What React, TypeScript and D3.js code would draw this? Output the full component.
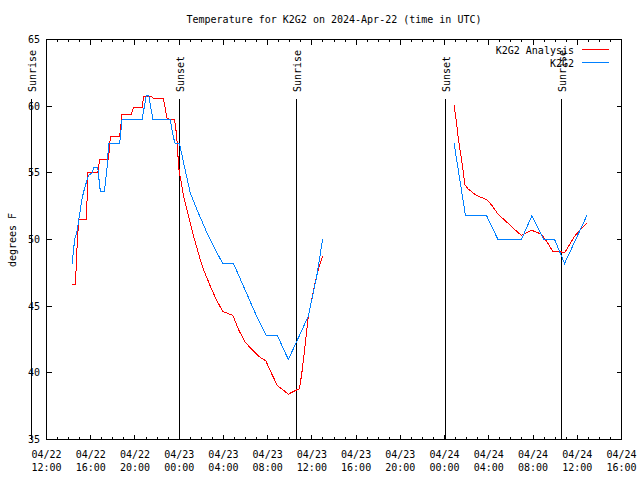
import React from "react";
import * as d3 from "d3";

const TITLE = "Temperature for K2G2 on 2024-Apr-22 (time in UTC)";
const Y_LABEL = "degrees F";
const START = Date.UTC(2024, 3, 22, 12);
const END = Date.UTC(2024, 3, 24, 16);
const yTicks = [35, 40, 45, 50, 55, 60, 65];

// hours after 2024-04-22 12:00 UTC
const analysisHours = [
  2.3, 2.62, 2.71, 2.8, 2.92, 3.61, 3.75, 4.63, 4.81, 5.6, 5.78, 6.62, 6.83, 7.67, 7.88, 8.64, 8.78,
  9.54, 9.66, 10.56, 10.9, 11.19, 11.58, 11.74, 11.85, 11.94, 12.03, 12.4, 12.85, 13.3, 13.9, 14.2,
  14.81, 15.41, 15.95, 16.86, 17.36, 17.97, 18.57, 19.17, 19.83, 20.38, 20.88, 21.87, 22.57, 22.87,
  23.08, 23.38, 23.68, 23.99, 24.28, 24.67, 24.98,
  36.86, 37.08, 37.22, 37.44, 37.62, 37.83, 38.12, 38.88, 39.79, 40.24, 40.83, 41.44, 42.34, 42.95,
  43.85, 44.75, 45.2, 45.8, 46.4, 46.85, 47.76, 48.87,
];
const analysisTemps = [
  46.6, 46.6, 48.5, 50.0, 51.5, 51.5, 55.0, 55.0, 56.0, 56.0, 57.75, 57.75, 59.4, 59.4, 59.9, 59.9, 60.7,
  60.7, 60.6, 60.6, 59.1, 59.0, 59.0, 58.0, 56.9, 55.5, 55.0, 53.25, 51.75, 50.25, 48.5, 47.75,
  46.5, 45.4, 44.6, 44.3, 43.25, 42.3, 41.75, 41.25, 40.9, 39.9, 39.05, 38.4, 38.7, 38.8,
  39.9, 42.0, 44.25, 45.5, 46.75, 48.0, 48.75,
  60.05, 58.75, 57.75, 56.5, 55.5, 54.1, 53.8, 53.3, 53.0, 52.6, 51.9, 51.45, 50.75, 50.3,
  50.7, 50.4, 49.9, 49.1, 49.1, 49.0, 50.25, 51.25,
];
const obsHours = [
  2.32, 2.44, 2.55, 2.75, 2.89, 3.07, 3.25, 3.43, 3.61, 3.79, 4.13, 4.27, 4.63, 4.87, 5.24, 5.48, 5.62,
  6.62, 6.83, 8.64, 9.03, 9.24, 9.63, 11.19, 11.49, 11.65, 12.03, 12.4, 13.0, 13.6, 14.51, 15.41,
  15.95, 16.91, 17.81, 18.87, 19.86, 20.88, 21.87, 22.57, 23.68, 24.44, 24.98,
  36.86, 37.89, 39.79, 40.83, 42.95, 43.9, 44.96, 45.95, 46.85, 48.87,
];
const obsTemps = [
  48.2, 49.2, 50.0, 50.6, 51.3, 52.3, 53.2, 53.8, 54.3, 54.8, 55.0, 55.4, 55.4, 53.6, 53.6, 55.4, 57.2,
  57.2, 59.0, 59.0, 60.8, 60.8, 59.0, 59.0, 57.6, 57.2, 57.2, 55.75, 53.5, 52.25, 50.5, 49.0,
  48.2, 48.2, 46.5, 44.5, 42.8, 42.8, 41.0, 42.25, 44.25, 47.25, 50.05,
  57.2, 51.8, 51.8, 50.0, 50.0, 51.8, 50.0, 50.0, 48.2, 51.8,
];
const sunriseHours = [-1.36, 22.61, 46.57];
const sunsetHours = [12.03, 36.05];
const seriesNames = ["K2G2 Analysis", "K2G2"];
const seriesColors = ["#ff0000", "#0080ff"];

const FONT = "DejaVu Sans Mono";
const FS = 10;

const hToDate = (h: number) => new Date(START + h * 3600e3);

function segments(hours: number[], temps: number[]): [number, number][][] {
  const segs: [number, number][][] = [];
  let cur: [number, number][] = [];
  hours.forEach((h, i) => {
    if (cur.length && h - cur[cur.length - 1][0] > 4) {
      segs.push(cur);
      cur = [];
    }
    cur.push([h, temps[i]]);
  });
  if (cur.length) segs.push(cur);
  return segs;
}

export default function App() {
  const L = 46.5, R = 621.5, T = 39.5, B = 439.5;
  const x = d3.scaleUtc().domain([new Date(START), new Date(END)]).range([L, R]);
  const y = d3.scaleLinear().domain([35, 65]).range([B, T]);
  const majorX = d3.utcHour.every(4)!.range(new Date(START), new Date(END + 1));
  const minorX = d3.utcHour.range(new Date(START), new Date(END + 1));
  const fmtD = d3.utcFormat("%m/%d");
  const fmtT = d3.utcFormat("%H:%M");
  const line = d3
    .line<[number, number]>()
    .x((d) => x(hToDate(d[0])))
    .y((d) => y(d[1]));

  const series = [
    segments(analysisHours, analysisTemps),
    segments(obsHours, obsTemps),
  ];

  const txt = { fontFamily: FONT, fontSize: FS, fill: "#000" } as const;

  const sunLines = [
    ...sunriseHours.map((h) => ({ h, label: "Sunrise" })),
    ...sunsetHours.map((h) => ({ h, label: "Sunset" })),
  ];

  return (
    <svg
      width={640}
      height={480}
      style={{ position: "absolute", left: 0, top: 0, background: "#fff" }}
    >
      <rect x={0} y={0} width={640} height={480} fill="#fff" />
      <text {...txt} x={(L + R) / 2} y={23} textAnchor="middle">
        {TITLE}
      </text>
      {/* minor x ticks */}
      <g stroke="#000" shapeRendering="crispEdges">
        {minorX.map((d, i) => {
          const xx = Math.round(x(d) - 0.5) + 0.5;
          return (
            <g key={i}>
              <line x1={xx} x2={xx} y1={B} y2={B - 2.5} />
              <line x1={xx} x2={xx} y1={T} y2={T + 2.5} />
            </g>
          );
        })}
        {majorX.map((d, i) => {
          const xx = Math.round(x(d) - 0.5) + 0.5;
          return (
            <g key={i}>
              <line x1={xx} x2={xx} y1={B} y2={B - 5} />
              <line x1={xx} x2={xx} y1={T} y2={T + 5} />
            </g>
          );
        })}
        {yTicks.map((v, i) => {
          const yy = Math.round(y(v) - 0.5) + 0.5;
          return (
            <g key={i}>
              <line x1={L} x2={L + 5} y1={yy} y2={yy} />
              <line x1={R} x2={R - 5} y1={yy} y2={yy} />
            </g>
          );
        })}
      </g>
      {majorX.map((d, i) => (
        <g key={i}>
          <text {...txt} x={x(d)} y={458} textAnchor="middle">
            {fmtD(d)}
          </text>
          <text {...txt} x={x(d)} y={470.5} textAnchor="middle">
            {fmtT(d)}
          </text>
        </g>
      ))}
      {yTicks.map((v, i) => (
        <text key={i} {...txt} x={40} y={y(v) + 3.6} textAnchor="end">
          {v}
        </text>
      ))}
      <text
        {...txt}
        transform={`translate(15.5,240) rotate(-90)`}
        textAnchor="middle"
      >
        {Y_LABEL}
      </text>
      {/* sunrise / sunset markers */}
      {sunLines.map((s, i) => {
        const xx = Math.round(x(hToDate(s.h)) - 0.5) + 0.5;
        return (
          <g key={i}>
            <line
              x1={xx}
              x2={xx}
              y1={99}
              y2={B}
              stroke="#000"
              shapeRendering="crispEdges"
            />
            <text {...txt} transform={`translate(${xx + 4.5},92) rotate(-90)`}>
              {s.label}
            </text>
          </g>
        );
      })}
      {/* data */}
      {series.map((segs, si) =>
        segs.map((seg, k) => (
          <path
            key={`${si}-${k}`}
            d={line(seg) || ""}
            fill="none"
            stroke={seriesColors[si]}
            strokeWidth={1}
            shapeRendering="crispEdges"
          />
        ))
      )}
      {/* frame */}
      <rect
        x={L}
        y={T}
        width={R - L}
        height={B - T}
        fill="none"
        stroke="#000"
        shapeRendering="crispEdges"
      />
      {/* legend */}
      {seriesNames.map((n, i) => (
        <g key={i}>
          <text {...txt} x={574} y={53.5 + i * 13} textAnchor="end">
            {n}
          </text>
          <line
            x1={582}
            x2={609}
            y1={49.5 + i * 13}
            y2={49.5 + i * 13}
            stroke={seriesColors[i]}
            shapeRendering="crispEdges"
          />
        </g>
      ))}
    </svg>
  );
}
